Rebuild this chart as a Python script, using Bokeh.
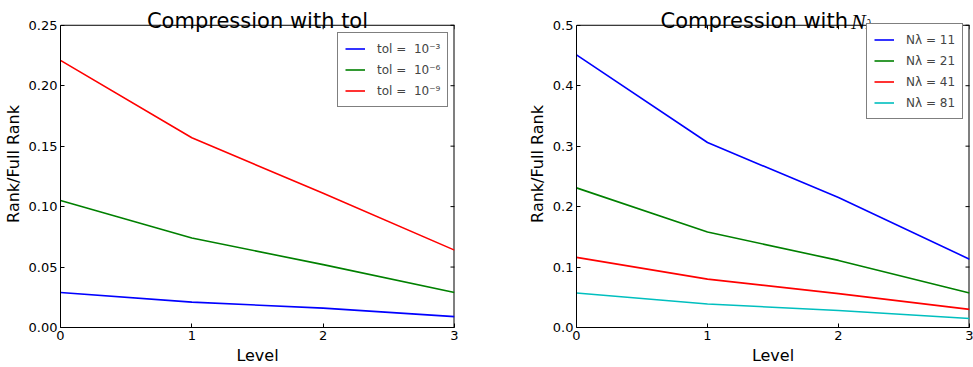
import math
from bokeh.plotting import figure
from bokeh.models import (Range1d, FixedTicker, NumeralTickFormatter,
                          Legend, LegendItem, Label, Span)
from bokeh.layouts import row
from bokeh.embed import file_html
from bokeh.resources import INLINE

# ---- data ----
levels = [0, 1, 2, 3]
tol_labels = ["tol =  10⁻³", "tol =  10⁻⁶", "tol =  10⁻⁹"]
tol_1e3 = [0.029, 0.021, 0.016, 0.009]
tol_1e6 = [0.105, 0.074, 0.052, 0.029]
tol_1e9 = [0.221, 0.157, 0.111, 0.064]

nl_labels = ["Nλ = 11", "Nλ = 21", "Nλ = 41", "Nλ = 81"]
nl_11 = [0.451, 0.306, 0.215, 0.113]
nl_21 = [0.231, 0.158, 0.111, 0.057]
nl_41 = [0.116, 0.080, 0.056, 0.030]
nl_81 = [0.057, 0.039, 0.028, 0.015]

x_ticks = [0, 1, 2, 3]
y_ticks_left = [0.0, 0.05, 0.10, 0.15, 0.20, 0.25]
y_ticks_right = [0.0, 0.1, 0.2, 0.3, 0.4, 0.5]

colors = ["#0000ff", "#008000", "#ff0000", "#00bfbf"]
FONT = "DejaVu Sans"

H = 367
BOTTOM = 37
AX_TOP = 25            # pixels between canvas top and the axes box
FRAME_H = H - BOTTOM   # frame reaches the canvas top; the box is drawn inside it
AX_H = FRAME_H - AX_TOP


def make_fig(width, ymax, yticks, yfmt, mb_left, mb_right):
    yend = ymax * FRAME_H / AX_H
    p = figure(width=width, height=H, output_backend="svg", toolbar_location=None,
               x_range=Range1d(0, 3), y_range=Range1d(0, yend),
               min_border_left=mb_left, min_border_right=mb_right,
               min_border_top=0, min_border_bottom=BOTTOM,
               background_fill_color="white", border_fill_color="white",
               outline_line_color=None)
    p.title = None
    p.xgrid.visible = False
    p.ygrid.visible = False
    for ax in (p.xaxis[0], p.yaxis[0]):
        ax.major_tick_in = 4
        ax.major_tick_out = 0
        ax.minor_tick_line_color = None
        ax.axis_line_color = "black"
        ax.major_tick_line_color = "black"
        ax.major_label_text_font = FONT
        ax.major_label_text_font_size = "13px"
        ax.major_label_text_color = "black"
        ax.axis_label_text_font = FONT
        ax.axis_label_text_font_size = "16px"
        ax.axis_label_text_font_style = "normal"
        ax.axis_label_text_color = "black"
        ax.major_label_standoff = 3
        ax.axis_label_standoff = 3
    p.xaxis[0].ticker = FixedTicker(ticks=x_ticks)
    p.yaxis[0].ticker = FixedTicker(ticks=yticks)
    p.yaxis[0].bounds = (0, ymax)
    p.yaxis[0].formatter = NumeralTickFormatter(format=yfmt)
    p.xaxis[0].axis_label = "Level"
    p.yaxis[0].axis_label = "Rank/Full Rank"
    # top and right sides of the axes box
    p.add_layout(Span(location=ymax, dimension="width", line_color="black", line_width=1))
    p.segment(x0=[3], y0=[0], x1=[3], y1=[ymax], line_color="black", line_width=2)
    # mirrored inward ticks on the top and right sides
    tick_len = 4 * yend / FRAME_H
    p.segment(x0=x_ticks, y0=[ymax] * len(x_ticks), x1=x_ticks,
              y1=[ymax - tick_len] * len(x_ticks), line_color="black", line_width=1)
    p.scatter(x=[3] * len(yticks), y=yticks, marker="dash", size=8,
              line_color="black", line_width=1)
    return p


def add_legend(p, renderers, labels, loc):
    items = [LegendItem(label=l, renderers=[r]) for l, r in zip(labels, renderers)]
    leg = Legend(items=items, location=loc, orientation="vertical",
                 label_text_font=FONT, label_text_font_size="12px",
                 glyph_width=20, glyph_height=17, spacing=4, padding=7,
                 label_standoff=12, margin=0,
                 border_line_color="black", border_line_width=1,
                 background_fill_alpha=1.0)
    p.add_layout(leg, "center")


# ---- left ----
p1 = make_fig(490, 0.25, y_ticks_left, "0.00", 60, 36)
r1 = []
for ys, c in zip([tol_1e3, tol_1e6, tol_1e9], colors):
    r1.append(p1.line(levels, ys, line_color=c, line_width=1.6))
add_legend(p1, r1, tol_labels, (277, 220))
p1.add_layout(Label(x=1.5, y=0.25, y_offset=4, text="Compression with tol",
                    text_align="center", text_baseline="alphabetic",
                    text_font=FONT, text_font_size="21px", text_color="black"))

# ---- right ----
p2 = make_fig(483, 0.5, y_ticks_right, "0.0", 86, 4)
r2 = []
for ys, c in zip([nl_11, nl_21, nl_41, nl_81], colors):
    r2.append(p2.line(levels, ys, line_color=c, line_width=1.6))
add_legend(p2, r2, nl_labels, (290, 208))
p2.add_layout(Label(x=1.5, y=0.5, x_offset=75, y_offset=4, text="Compression with",
                    text_align="right", text_baseline="alphabetic",
                    text_font=FONT, text_font_size="21px", text_color="black"))
p2.add_layout(Label(x=1.5, y=0.5, x_offset=78, y_offset=4, text="N",
                    text_align="left", text_baseline="alphabetic",
                    text_font="Liberation Serif", text_font_style="italic",
                    text_font_size="22px", text_color="black"))
p2.add_layout(Label(x=1.5, y=0.5, x_offset=93, y_offset=1, text="λ",
                    text_align="left", text_baseline="alphabetic",
                    text_font="Liberation Serif", text_font_style="italic",
                    text_font_size="15px", text_color="black"))

layout = row(p1, p2)
open("out.html", "w").write(file_html(layout, INLINE))
